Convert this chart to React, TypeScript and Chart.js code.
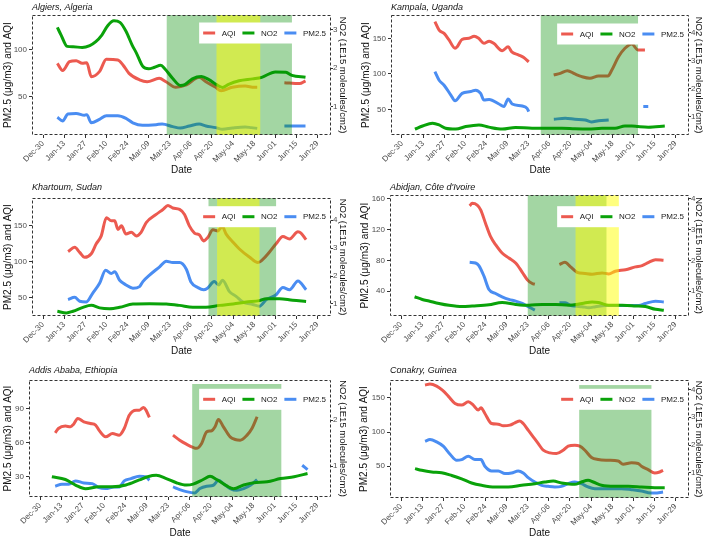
import React, { useEffect, useRef } from 'react';
import { Chart, registerables } from 'chart.js';

Chart.register(...registerables);

type Pt = [number, number | null];

// x axis: days since Dec-30 (2019)
const tickDays = [0, 14, 28, 42, 56, 70, 84, 98, 112, 126, 140, 154, 168, 182];
const tickLabels = ['Dec-30', 'Jan-13', 'Jan-27', 'Feb-10', 'Feb-24', 'Mar-09', 'Mar-23', 'Apr-06', 'Apr-20', 'May-04', 'May-18', 'Jun-01', 'Jun-15', 'Jun-29'];
const seriesLabels = ['AQI', 'NO2', 'PM2.5'];

// ---------- Algiers ----------
const algiersAQI: Pt[] = [[9.5, 85.7], [13, 78], [17.6, 87.5], [22, 88.6], [26, 85.7], [29, 86.4], [32, 71.4], [37.4, 76.8], [42, 90], [49.6, 89.3], [53, 84], [57, 75], [64, 68], [69, 66], [77, 69.6], [81.5, 66], [88, 60], [95, 62.5], [103.5, 70.7], [108, 66], [114.5, 60], [118, 56.4], [125.5, 60], [134, 61.4], [140, 60], [142, 60], [150, null], [160, 65], [170, 64], [174, 67]];
const algiersPM: Pt[] = [[9.5, 27.9], [13, 24], [16.5, 31.4], [22, 32], [27.5, 30], [29, 30.7], [32, 22], [37.4, 25.7], [42, 29.6], [49.6, 29.6], [55, 26.8], [59.5, 22], [66, 19.3], [75, 20], [79, 20.7], [86, 17.9], [91, 16.4], [97, 18.6], [103.5, 20.7], [108, 18.6], [114.5, 16.8], [119, 15], [125.5, 16.4], [134, 17.5], [138, 16.8], [142, 16], [150, null], [160, 18.6], [174, 18.6]];
const algiersNO2: Pt[] = [[9.5, 3.05], [12, 2.85], [16, 2.56], [20, 2.55], [26, 2.53], [31, 2.58], [35, 2.68], [39, 2.85], [43, 3.1], [47, 3.22], [51, 3.18], [55, 2.95], [59, 2.6], [62, 2.38], [66, 2.05], [70, 1.98], [74, 2.02], [78, 2.07], [81, 1.97], [86, 1.73], [91, 1.55], [94, 1.57], [99, 1.72], [105, 1.78], [110, 1.7], [115, 1.57], [119, 1.5], [123, 1.58], [130, 1.67], [139, 1.72], [145, 1.76], [154, 1.9], [161, 1.89], [165, 1.81], [174, 1.76]];
const algiersShades: [number, number, string, number | null][] = [[82, 165, 'green', null], [115, 144, 'yellow', null]];

// ---------- Kampala ----------
const kampalaAQI: Pt[] = [[21.9, 173.5], [24.7, 161.7], [28, 157], [31.3, 147.7], [35.3, 136], [37, 139], [40, 148.6], [44.6, 150], [48, 153], [51, 150], [54.5, 143], [58, 146], [61, 143], [66.7, 132.6], [70.6, 138], [73, 131], [77.7, 126.5], [81, 123], [84.3, 117], [92, null], [100.9, 98.4], [105.3, 100.7], [110, 104.5], [115, 99.8], [119.6, 96], [125, 93.7], [130.7, 97], [137, 97], [139.5, 105], [144, 124], [148.3, 136], [152.8, 142], [157, 133.6], [161.6, 133.6]];
const kampalaPM: Pt[] = [[21.9, 103], [24.7, 91], [28, 84], [32.5, 70], [35.3, 62], [40, 72.5], [45.7, 75], [49, 77], [52.3, 72.5], [54.5, 63], [58, 64], [64.5, 57.5], [67.8, 53.8], [70.6, 64.5], [73.3, 57.5], [80, 54.7], [83.2, 51.4], [84.3, 46.7], [92, null], [101, 36], [108.6, 37.3], [115, 36], [121.9, 35], [126, 32.2], [130.7, 34], [137.5, 35], [150, null], [160.5, 53.8], [163.8, 53.8]];
const kampalaNO2: Pt[] = [[8.6, 0.56], [13.7, 0.67], [20.3, 0.77], [24.7, 0.71], [29, 0.59], [35.8, 0.56], [42.4, 0.65], [51.2, 0.71], [57.8, 0.63], [66.7, 0.56], [75.5, 0.62], [86.5, 0.59], [97.6, 0.59], [106.4, 0.59], [115, 0.57], [124, 0.56], [133, 0.59], [141.7, 0.59], [148.3, 0.67], [152.8, 0.67], [157, 0.65], [163.8, 0.63], [174.8, 0.67]];
const kampalaShades: [number, number, string, number | null][] = [[92.3, 157, 'green', null]];

// ---------- Khartoum ----------
const khartoumAQI: Pt[] = [[16.6, 114], [21, 120], [24.3, 113], [27.6, 106], [32, 111], [35.3, 125], [38.6, 136], [42, 161.5], [45.3, 157], [47.5, 157], [49.7, 145], [52, 150], [55, 138.5], [58.5, 141], [61.8, 136], [65, 141], [68.4, 154.6], [75, 166], [79.5, 173], [82.8, 178.4], [86, 175], [90.5, 173], [93.8, 166], [97, 150], [100.4, 140], [103.8, 137], [106.4, 129], [109.3, 134], [112.6, 144.5], [115.9, 143], [118.8, 149], [121.4, 138.5], [126, 127], [130, 118], [137, 106], [142.4, 98.6], [145.7, 103], [150, 113], [154.5, 125], [159, 135], [163.4, 131.6], [169, 141.7], [171, 140], [174.4, 130.7]];
const khartoumPM: Pt[] = [[16.6, 46.8], [21, 50], [24.3, 44.5], [28.7, 43.6], [33, 56], [37.5, 69.7], [41.5, 88], [45.3, 83.5], [47.5, 85.8], [50.8, 74], [55, 67.4], [59.6, 62.8], [64, 65], [66.2, 72], [70.6, 81], [77.3, 92.7], [81.7, 100.5], [86, 98.6], [90.5, 98.6], [95, 89.4], [98.2, 71], [102.6, 63.8], [106.4, 60.6], [109, 62.8], [113.5, 72], [116.5, 67.4], [119, 74], [123.6, 58], [128, 51.4], [132.4, 43.6], [139, 40], [143.5, 37.6], [148, 46.8], [154.5, 53.7], [159, 63.8], [163.4, 60.6], [169, 73], [174.4, 60.6]];
const khartoumNO2: Pt[] = [[9.5, 0.74], [15.5, 0.68], [19.9, 0.74], [26.5, 0.88], [32, 0.95], [37.5, 0.86], [44, 0.83], [50.8, 0.88], [59.6, 1.0], [70.6, 1.01], [81.7, 1.0], [90.5, 0.95], [99.3, 0.88], [108, 0.88], [117, 0.95], [126, 1.0], [134.8, 1.07], [143.5, 1.12], [148, 1.19], [156.7, 1.19], [165.5, 1.13], [174.4, 1.09]];
const khartoumShades: [number, number, string, number | null][] = [[109.7, 154.5, 'green', null], [115.4, 143.5, 'yellow', null]];

// ---------- Abidjan ----------
const abidjanAQI: Pt[] = [[45.5, 151], [47.2, 154.4], [50.5, 152], [52.8, 145.8], [56, 128.5], [59.4, 111], [62.7, 100.5], [67, 89.7], [71.5, 83.2], [76, 76.7], [80.4, 64.6], [83.7, 55], [87, 50], [88.7, 49], [96, null], [105, 74.6], [108.6, 77.6], [112.4, 71.6], [116.8, 64.6], [122, 63], [126.7, 62], [133.3, 63.8], [137.7, 62.5], [142, 66], [148.8, 68], [155.4, 71.6], [159.8, 73.3], [164.2, 77.6], [168.7, 81], [174, 80.2]];
const abidjanPM: Pt[] = [[45.5, 77.6], [49.4, 76.7], [51.6, 73.3], [55, 59.5], [58.3, 42.2], [62.7, 37], [67, 32.7], [71.5, 29.3], [76, 27.1], [80.4, 24], [83.7, 20.6], [88.7, 15.4], [96, null], [105, 25], [109, 25], [112.4, 21.5], [115.7, 20.6], [120, 19.8], [124.5, 18.5], [128.9, 19.8], [135.5, 21.5], [142, 21.5], [151, 21.5], [157.6, 21.5], [162, 24], [168.7, 27], [174.2, 26]];
const abidjanNO2: Pt[] = [[9, 0.82], [14.1, 0.73], [18.5, 0.68], [25.2, 0.6], [31.8, 0.54], [40.6, 0.5], [47.2, 0.52], [58.3, 0.56], [67, 0.63], [76, 0.57], [84.8, 0.54], [93.6, 0.57], [102.4, 0.57], [111.3, 0.54], [120, 0.6], [126.7, 0.65], [131, 0.63], [137.7, 0.54], [146.6, 0.54], [155.4, 0.52], [162, 0.5], [168.7, 0.41], [174.2, 0.38]];
const abidjanShades: [number, number, string, number | null][] = [[84, 136.2, 'green', null], [115.7, 144.4, 'yellow', null]];

// ---------- Addis Ababa ----------
const addisAQI: Pt[] = [[9.9, 68.6], [12, 72.4], [16.6, 74.5], [19.9, 74], [22, 76.2], [24.7, 81.2], [28.7, 78.3], [33, 76.8], [36.4, 75.4], [38.6, 71], [43, 65.1], [47.5, 68], [51.9, 66.6], [55.2, 72.4], [58.5, 84.1], [63, 88.5], [65.2, 88.5], [67.8, 90.9], [69.5, 88.5], [71.7, 82.1], [80, null], [87.2, 66.6], [91.6, 62.2], [96, 58.7], [100.4, 55.8], [102.6, 55], [106, 59.3], [109.3, 69.5], [112.6, 70.4], [114.8, 73.9], [117, 80.3], [120.3, 73.9], [124.7, 65.1], [128, 62.8], [131.3, 62.2], [135.8, 66.6], [139, 72.4], [142.4, 82.7]];
const addisPM: Pt[] = [[9.9, 21.8], [14.3, 23.6], [18.8, 23.6], [23.2, 26.5], [28.7, 24.7], [34.2, 24.1], [38.6, 20.6], [43, 19.8], [48.6, 21.2], [51.9, 21.2], [55.2, 26.5], [59.6, 28.5], [65.1, 30.6], [69.5, 30], [71.7, 27], [80, null], [87.2, 21.2], [91.6, 18.9], [96, 17.1], [101.5, 16], [104.9, 19.8], [109.3, 21.8], [113.7, 22.7], [117, 27], [120.3, 24.1], [124.7, 19.8], [129.1, 18.3], [133.6, 19.8], [138, 22.7], [142.4, 27.7], [160, null], [172, 40.2], [175.5, 36.4]];
const addisNO2: Pt[] = [[7.7, 0.77], [16.6, 0.71], [23.2, 0.59], [29.8, 0.51], [38.6, 0.55], [47.5, 0.55], [56.3, 0.59], [65.1, 0.7], [70.6, 0.77], [76.2, 0.8], [82.8, 0.73], [89.4, 0.64], [96, 0.59], [100.4, 0.61], [107, 0.71], [111.5, 0.78], [115.9, 0.71], [122.5, 0.57], [126.9, 0.51], [133.6, 0.59], [140.2, 0.64], [149, 0.66], [157.8, 0.73], [166.7, 0.77], [175.5, 0.84]];
const addisShades: [number, number, string, number | null][] = [[99.8, 158.3, 'green', 111.4]];

// ---------- Conakry ----------
const conakryAQI: Pt[] = [[15.9, 168.5], [19.2, 170], [23.6, 167], [27.4, 161], [31.3, 152.4], [35.8, 141.7], [40.2, 139.3], [44.6, 144], [47.9, 139.3], [51.2, 132], [53, 135.4], [55.6, 127], [60, 112.4], [64.5, 111.5], [67.8, 109], [72.2, 110], [75.5, 113.4], [78.8, 116], [81, 112.4], [84.3, 102.7], [87.6, 93], [91, 83], [94.3, 73.4], [98.7, 69.5], [103, 68.5], [107.5, 73.4], [110.8, 79.3], [115.2, 80.7], [118.5, 79.3], [121.9, 73.4], [126.3, 62.7], [130.7, 59.8], [137.3, 58.8], [143.9, 57.8], [147.2, 53], [152.8, 55], [157.2, 54], [159.4, 50], [163.8, 45], [168.2, 40.2], [171.5, 41.7], [173.7, 44]];
const conakryPM: Pt[] = [[15.9, 86.6], [19.2, 89], [23.6, 85.6], [28, 79.3], [32.5, 67.6], [36.9, 58.8], [40.2, 59.8], [44.6, 64.6], [49, 59.8], [53, 59.8], [55.6, 50], [60, 43.2], [64.5, 43.2], [68.9, 39.3], [73.3, 40.2], [77.7, 43.2], [81, 40.2], [84.3, 33.4], [88.7, 27], [93.2, 22.2], [97.6, 20.7], [102, 19.8], [106.4, 20.7], [110.8, 24.6], [115.2, 27], [119.6, 24.6], [124, 19.8], [128.5, 17.3], [137.3, 17.3], [146.1, 17.3], [152.8, 15.9], [159.4, 13.9], [163.8, 11.5], [168.2, 11], [173.7, 12.4]];
const conakryNO2: Pt[] = [[9.3, 1.155], [13.7, 1.095], [20.3, 1.035], [26.9, 1.01], [33.6, 0.91], [40.2, 0.79], [46.8, 0.64], [53.4, 0.555], [62.3, 0.495], [71.1, 0.495], [79.9, 0.555], [88.7, 0.615], [95.4, 0.675], [100.9, 0.71], [106.4, 0.64], [115.2, 0.59], [119.6, 0.675], [124, 0.735], [127.4, 0.675], [132.9, 0.555], [141.7, 0.52], [150.6, 0.52], [159.4, 0.495], [168.2, 0.47], [174.8, 0.47]];
const conakryShades: [number, number, string, number | null][] = [[118.1, 166, 'green', 168.5]];

// ---------- styling ----------
const RED = '#EC5A50';
const GREEN = '#0AA20A';
const BLUE = '#4A8DF2';
const SHADE_GREEN = 'rgba(0,140,0,0.36)';
const SHADE_YELLOW = 'rgba(255,255,0,0.5)';
const FONT = '"Liberation Sans", Arial, Helvetica, sans-serif';
const TICK = '#4D4D4D';

const panels = [
  { title: 'Algiers, Algeria', x: 0, y: 0, w: 356, h: 180, area: { left: 32, right: 331, top: 15, bottom: 135 }, yMin: 8.9, yMax: 137.5, yTicks: [50, 100], y2Min: 0.27, y2Max: 3.37, y2Ticks: [1, 2, 3], aqi: algiersAQI, pm: algiersPM, no2: algiersNO2, shades: algiersShades, titleY: 7, dateY: 170, legendCy: 33, leftTitleX: 8.3 },
  { title: 'Kampala, Uganda', x: 355, y: 0, w: 357, h: 180, area: { left: 36, right: 334, top: 15, bottom: 135 }, yMin: 13.8, yMax: 182.9, yTicks: [50, 100, 150], y2Min: 0.35, y2Max: 4.62, y2Ticks: [1, 2, 3, 4], aqi: kampalaAQI, pm: kampalaPM, no2: kampalaNO2, shades: kampalaShades, titleY: 7, dateY: 170, legendCy: 34, leftTitleX: 11 },
  { title: 'Khartoum, Sudan', x: 0, y: 180, w: 356, h: 180, area: { left: 32, right: 331, top: 18, bottom: 136 }, yMin: 23.9, yMax: 189, yTicks: [50, 100, 150], y2Min: 0.57, y2Max: 4.79, y2Ticks: [1, 2, 3, 4], aqi: khartoumAQI, pm: khartoumPM, no2: khartoumNO2, shades: khartoumShades, titleY: 7.3, dateY: 171.7, legendCy: 36.7, leftTitleX: 8.3 },
  { title: "Abidjan, Côte d'Ivoire", x: 355, y: 180, w: 357, h: 180, area: { left: 35, right: 334, top: 15, bottom: 136 }, yMin: 7.7, yMax: 165.2, yTicks: [40, 80, 120, 160], y2Min: 0.1925, y2Max: 4.13, y2Ticks: [1, 2, 3, 4], aqi: abidjanAQI, pm: abidjanPM, no2: abidjanNO2, shades: abidjanShades, titleY: 7.3, dateY: 171.7, legendCy: 36.7, leftTitleX: 10 },
  { title: 'Addis Ababa, Ethiopia', x: 0, y: 360, w: 356, h: 181, area: { left: 29, right: 331, top: 20, bottom: 137 }, yMin: 12.4, yMax: 114.9, yTicks: [30, 60, 90], y2Min: 0.33, y2Max: 2.87, y2Ticks: [1, 2], aqi: addisAQI, pm: addisPM, no2: addisNO2, shades: addisShades, titleY: 10, dateY: 173, legendCy: 39.3, leftTitleX: 8.3 },
  { title: 'Conakry, Guinea', x: 355, y: 360, w: 357, h: 181, area: { left: 35, right: 334, top: 20, bottom: 138 }, yMin: 3.7, yMax: 175.9, yTicks: [50, 100, 150], y2Min: 0.1, y2Max: 4.34, y2Ticks: [1, 2, 3, 4], aqi: conakryAQI, pm: conakryPM, no2: conakryNO2, shades: conakryShades, titleY: 10, dateY: 173, legendCy: 39.3, leftTitleX: 9.3 },
];

const toXY = (pts: Pt[]) => pts.map(([x, y]) => ({ x, y }));

function Panel({ p }: { p: any }) {
  const ref = useRef<HTMLCanvasElement | null>(null);
  useEffect(() => {
    const a = p.area;
    const colors = [RED, GREEN, BLUE];
    const decor = {
      id: 'decor',
      afterDatasetsDraw(chart: any) {
        const { ctx, chartArea: ca, scales } = chart;
        const xs = scales.x;
        const ys = scales.y;
        ctx.save();
        ctx.beginPath();
        ctx.rect(ca.left, ca.top, ca.right - ca.left, ca.bottom - ca.top);
        ctx.clip();
        p.shades.forEach(([s, e, kind, ymax]: [number, number, string, number | null]) => {
          const x0 = xs.getPixelForValue(s);
          const x1 = xs.getPixelForValue(e);
          const yt = ymax == null ? ca.top : ys.getPixelForValue(ymax);
          ctx.fillStyle = kind === 'green' ? SHADE_GREEN : SHADE_YELLOW;
          ctx.fillRect(x0, yt, x1 - x0, ca.bottom - yt);
        });
        ctx.restore();

        // legend
        ctx.save();
        ctx.font = `8px ${FONT}`;
        const keyW = 12, gapKT = 6.5, gapItem = 7;
        const widths = seriesLabels.map((l) => ctx.measureText(l).width);
        let total = 0;
        widths.forEach((w: number, i: number) => { total += keyW + gapKT + w + (i < widths.length - 1 ? gapItem : 0); });
        const right = ca.right - 5;
        let lx = right - total;
        const cy = p.legendCy;
        ctx.fillStyle = '#ffffff';
        ctx.fillRect(lx - 4, cy - 10.5, total + 7, 21);
        seriesLabels.forEach((l, i) => {
          ctx.strokeStyle = colors[i];
          ctx.lineWidth = 3;
          ctx.lineCap = 'butt';
          ctx.beginPath();
          ctx.moveTo(lx, cy);
          ctx.lineTo(lx + keyW, cy);
          ctx.stroke();
          ctx.fillStyle = '#1a1a1a';
          ctx.textBaseline = 'middle';
          ctx.textAlign = 'left';
          ctx.fillText(l, lx + keyW + gapKT, cy + 0.5);
          lx += keyW + gapKT + widths[i] + gapItem;
        });
        ctx.restore();
      },
      afterDraw(chart: any) {
        const { ctx, chartArea: ca } = chart;
        ctx.save();
        ctx.strokeStyle = '#333333';
        ctx.lineWidth = 1;
        ctx.setLineDash([3, 2]);
        ctx.strokeRect(Math.round(ca.left) + 0.5, Math.round(ca.top) + 0.5, Math.round(ca.right - ca.left) - 1, Math.round(ca.bottom - ca.top) - 1);
        ctx.setLineDash([]);
        ctx.font = `italic 9px ${FONT}`;
        ctx.fillStyle = '#111111';
        ctx.textBaseline = 'middle';
        ctx.textAlign = 'left';
        ctx.fillText(p.title, ca.left, p.titleY);
        ctx.restore();
      },
    };

    const tickFont = { family: FONT, size: 8 };
    const chart = new Chart(ref.current as HTMLCanvasElement, {
      type: 'line',
      data: {
        datasets: [
          { label: seriesLabels[0], data: toXY(p.aqi), borderColor: RED, yAxisID: 'y', order: 1 },
          { label: seriesLabels[1], data: toXY(p.no2), borderColor: GREEN, yAxisID: 'y2', order: 0 },
          { label: seriesLabels[2], data: toXY(p.pm), borderColor: BLUE, yAxisID: 'y', order: 2 },
        ],
      },
      options: {
        animation: false,
        responsive: false,
        devicePixelRatio: 1,
        spanGaps: false,
        layout: { padding: { top: a.top, left: 0, right: 0, bottom: 0 } },
        plugins: { legend: { display: false }, tooltip: { enabled: false }, title: { display: false } },
        elements: {
          point: { radius: 0 },
          line: { borderWidth: 3, cubicInterpolationMode: 'monotone', borderCapStyle: 'butt', fill: false },
        },
        scales: {
          x: {
            type: 'linear',
            min: -7.3,
            max: 190.9,
            afterBuildTicks: (s: any) => { s.ticks = tickDays.map((v) => ({ value: v })); },
            afterFit: (s: any) => { s.height = p.h - a.bottom; },
            ticks: {
              autoSkip: false, minRotation: 45, maxRotation: 45, padding: 1, color: TICK, font: tickFont,
              callback: (v: any) => tickLabels[tickDays.indexOf(Number(v))] ?? '',
            },
            grid: { drawOnChartArea: false, drawTicks: true, tickLength: 3, color: '#333333' },
            border: { display: false },
            title: { display: true, text: 'Date', color: '#111111', font: { family: FONT, size: 10 }, padding: { top: 0, bottom: p.h - p.dateY - 6 } },
          },
          y: {
            type: 'linear',
            position: 'left',
            min: p.yMin,
            max: p.yMax,
            afterBuildTicks: (s: any) => { s.ticks = p.yTicks.map((v: number) => ({ value: v })); },
            afterFit: (s: any) => { s.width = a.left; },
            ticks: { padding: 2, color: TICK, font: tickFont },
            grid: { drawOnChartArea: false, drawTicks: true, tickLength: 3, color: '#333333' },
            border: { display: false },
            title: { display: true, text: 'PM2.5 (μg/m3) and AQI', color: '#111111', font: { family: FONT, size: 10 }, padding: { top: p.leftTitleX - 6, bottom: 0 } },
          },
          y2: {
            type: 'linear',
            position: 'right',
            min: p.y2Min,
            max: p.y2Max,
            afterBuildTicks: (s: any) => { s.ticks = p.y2Ticks.map((v: number) => ({ value: v })); },
            afterFit: (s: any) => { s.width = p.w - a.right; },
            ticks: { padding: 0, color: TICK, font: tickFont },
            grid: { drawOnChartArea: false, drawTicks: true, tickLength: 2, color: '#333333' },
            border: { display: false },
            title: { display: true, text: 'NO2 (1E15 molecules/cm2)', color: '#111111', font: { family: FONT, size: 9.5 }, padding: { top: 7.5, bottom: 0 } },
          },
        },
      } as any,
      plugins: [decor as any],
    });
    return () => chart.destroy();
  }, [p]);
  return (
    <canvas
      ref={ref}
      width={p.w}
      height={p.h}
      style={{ position: 'absolute', left: p.x, top: p.y, width: p.w, height: p.h, display: 'block' }}
    />
  );
}

export default function App() {
  return (
    <div style={{ position: 'absolute', left: 0, top: 0, width: 712, height: 541, background: '#ffffff', overflow: 'hidden' }}>
      {panels.map((p) => (
        <Panel key={p.title} p={p} />
      ))}
    </div>
  );
}
